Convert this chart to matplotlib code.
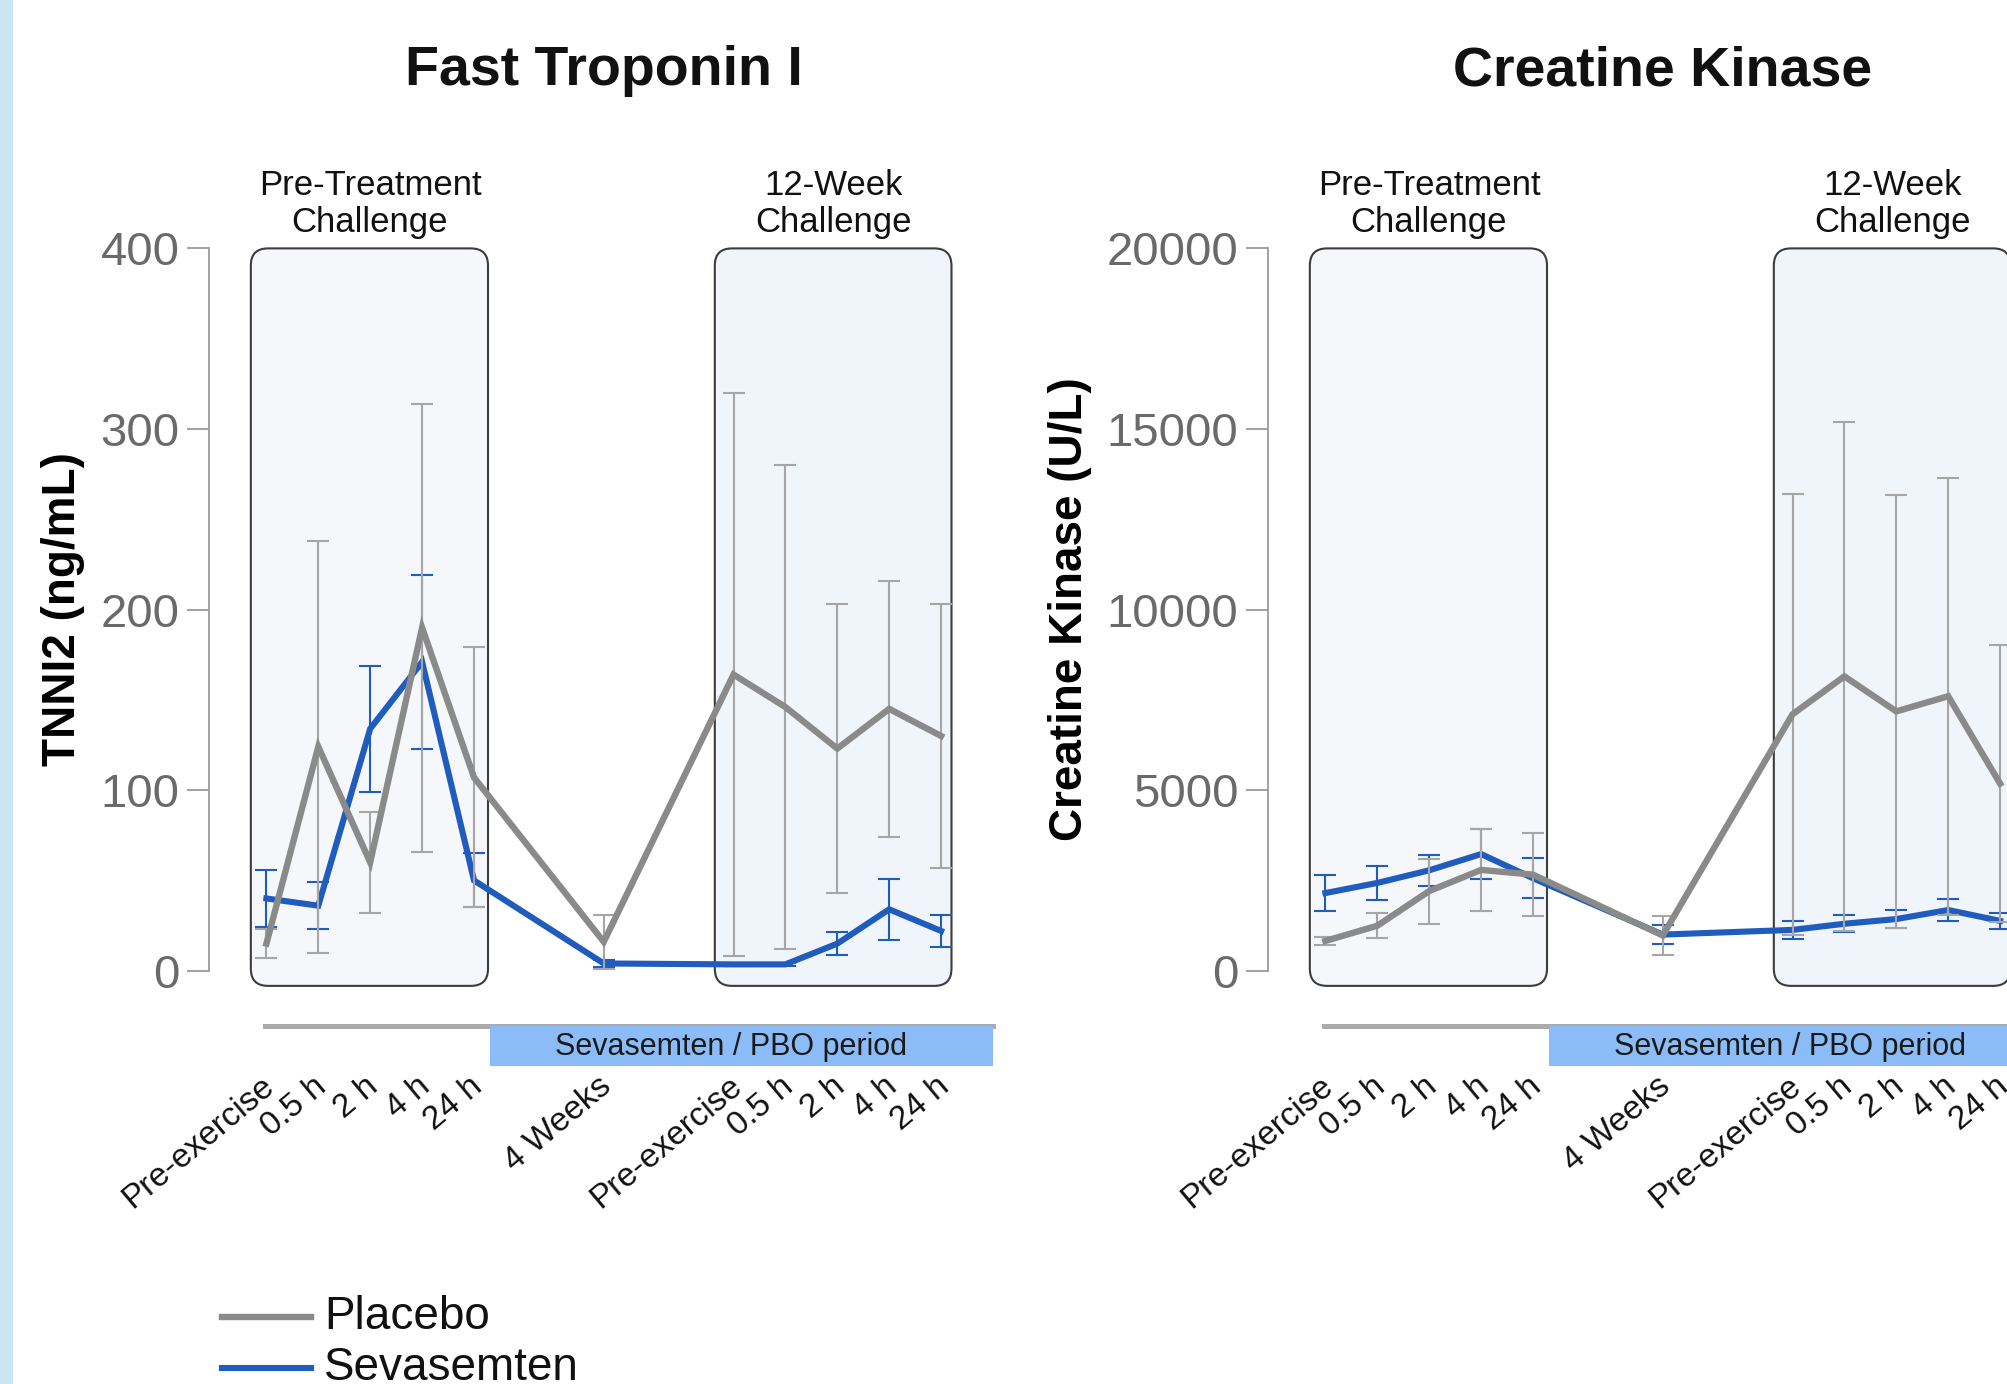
import matplotlib
matplotlib.use('Agg')
import matplotlib.pyplot as plt
from matplotlib.patches import FancyBboxPatch, Rectangle
from matplotlib.lines import Line2D
import matplotlib.transforms as mtransforms

plt.rcParams['font.family'] = ['Liberation Sans', 'DejaVu Sans']

# ---------------- data ----------------
timepoints = ['Pre-exercise', '0.5 h', '2 h', '4 h', '24 h', '4 Weeks',
              'Pre-exercise', '0.5 h', '2 h', '4 h', '24 h']
x_pos = [0, 1, 2, 3, 4, 6.5, 9, 10, 11, 12, 13]

tnni2_placebo = [15, 124, 60, 190, 107, 16, 164, 146, 123, 145, 130]
tnni2_placebo_err = [8, 114, 28, 124, 72, 15, 156, 134, 80, 71, 73]
tnni2_seva = [40, 36, 134, 171, 50, 4, 3.5, 3.5, 15, 34, 22]
tnni2_seva_err = [16, 13, 35, 48, 15, 2, 1, 1, 6.5, 17, 9]

ck_placebo = [825, 1245, 2205, 2790, 2660, 975, 7100, 8150, 7180, 7600, 5180]
ck_placebo_err = [100, 340, 900, 1130, 1150, 530, 6100, 7050, 6000, 6050, 3830]
ck_seva = [2150, 2430, 2780, 3230, 2560, 1000, 1130, 1300, 1430, 1680, 1380]
ck_seva_err = [500, 470, 430, 680, 560, 260, 250, 240, 250, 300, 230]

titles = ['Fast Troponin I', 'Creatine Kinase']
ylabels = ['TNNI2 (ng/mL)', 'Creatine Kinase (U/L)']
yticks = [[0, 100, 200, 300, 400], [0, 5000, 10000, 15000, 20000]]
challenge_labels = ['Pre-Treatment\nChallenge', '12-Week\nChallenge']
period_label = 'Sevasemten / PBO period'
series_names = ['Placebo', 'Sevasemten']

# ---------------- style ----------------
C_PBO = '#8a8a8a'
C_PBO_ERR = '#a6a6a6'
C_SEVA = '#1f5cbd'
C_AX = '#9a9a9a'
C_TICK = '#6a6a6a'

W, H = 2008, 1384
fig = plt.figure(figsize=(W / 100, H / 100), dpi=100)
fig.patch.set_facecolor('white')
fig.add_artist(Rectangle((0, 0), 13 / W, 1, transform=fig.transFigure,
                         facecolor='#cbe5f1', edgecolor='none'))

unit_px = 51.9
xmin, xmax = -1.11, 14.6
y0_px = H - 970.7
ax_h_px = 722.3
panel_x0 = [266.4, 266.4 + 1059]

data = [
    (tnni2_placebo, tnni2_placebo_err, tnni2_seva, tnni2_seva_err),
    (ck_placebo, ck_placebo_err, ck_seva, ck_seva_err),
]

for i in range(2):
    x0 = panel_x0[i]
    ax_w_px = (xmax - xmin) * unit_px
    ax = fig.add_axes([(x0 + xmin * unit_px) / W, y0_px / H, ax_w_px / W, ax_h_px / H])
    ax.set_xlim(xmin, xmax)
    ax.set_ylim(yticks[i][0], yticks[i][-1])
    ax.patch.set_alpha(0)
    for s in ['top', 'right', 'bottom']:
        ax.spines[s].set_visible(False)
    ax.spines['left'].set_color(C_AX)
    ax.spines['left'].set_linewidth(1.3)
    ax.xaxis.set_visible(False)
    ax.set_yticks(yticks[i])
    ax.set_yticklabels([str(v) for v in yticks[i]])
    ax.tick_params(axis='y', length=16, width=1.3, color=C_AX, labelcolor=C_TICK,
                   labelsize=34, pad=5)
    ax.set_ylabel(ylabels[i], fontsize=33, fontweight='bold', labelpad=11)

    trans = mtransforms.blended_transform_factory(ax.transData, ax.transAxes)
    aspect = unit_px / ax_h_px

    # challenge boxes
    for (bx0, bx1, fc), lab in zip([(-0.30, 4.27, '#f5f7fa'), (8.64, 13.2, '#eff5fa')],
                                   challenge_labels):
        box = FancyBboxPatch((bx0, -0.021), bx1 - bx0, 1.021,
                             boxstyle='round,pad=0,rounding_size=0.33',
                             mutation_aspect=aspect, transform=trans,
                             facecolor=fc, edgecolor='#3c3c3c', linewidth=1.5,
                             clip_on=False, zorder=0)
        ax.add_patch(box)
        ax.text((bx0 + bx1) / 2 + 0.01, 1.062, lab, transform=trans, ha='center',
                va='center', fontsize=25, linespacing=1.15, color='#111111')

    pbo, pbo_err, sev, sev_err = data[i]
    ax.errorbar(x_pos, sev, yerr=sev_err, fmt='none', ecolor=C_SEVA, elinewidth=1.5,
                capsize=8, capthick=1.5, zorder=2, clip_on=False)
    ax.plot(x_pos, sev, color=C_SEVA, lw=4.4, zorder=3, solid_joinstyle='miter',
            clip_on=False)
    ax.errorbar(x_pos, pbo, yerr=pbo_err, fmt='none', ecolor=C_PBO_ERR, elinewidth=1.5,
                capsize=8, capthick=1.5, zorder=4, clip_on=False)
    ax.plot(x_pos, pbo, color=C_PBO, lw=4.6, zorder=5, solid_joinstyle='miter',
            clip_on=False)

    # title
    ax.text(6.5, 1.245, titles[i], transform=trans, ha='center', va='center',
            fontsize=40, fontweight='bold', color='#111111')

    # treatment period bar
    ax.add_line(Line2D([-0.02, 14.0], [-0.0759, -0.0759], transform=trans,
                       color='#ababab', lw=3.6, clip_on=False, zorder=1))
    ax.add_patch(Rectangle((4.31, -0.132), 14.0 - 4.31, 0.0555, transform=trans,
                           facecolor='#8cbcf7', edgecolor='none', clip_on=False,
                           zorder=1))
    ax.text(8.95, -0.106, period_label, transform=trans, ha='center', va='center',
            fontsize=22, color='#1a1a1a')

    # x tick labels
    lab_trans = mtransforms.offset_copy(trans, fig=fig, x=3, y=0, units='points')
    for xp, lab in zip(x_pos, timepoints):
        ax.text(xp, -0.155, lab, transform=lab_trans, rotation=40,
                rotation_mode='anchor', ha='right', va='center', fontsize=24,
                color='#111111')

# legend
for yy, col, name, lw in [(1 - 1317 / H, C_PBO, series_names[0], 4.6),
                          (1 - 1368 / H, C_SEVA, series_names[1], 4.4)]:
    fig.add_artist(Line2D([222 / W, 311 / W], [yy, yy], transform=fig.transFigure,
                          color=col, lw=lw))
    fig.text(324 / W, yy, name, ha='left', va='center', fontsize=33, color='#111111')

fig.savefig('out.png', dpi=100)
